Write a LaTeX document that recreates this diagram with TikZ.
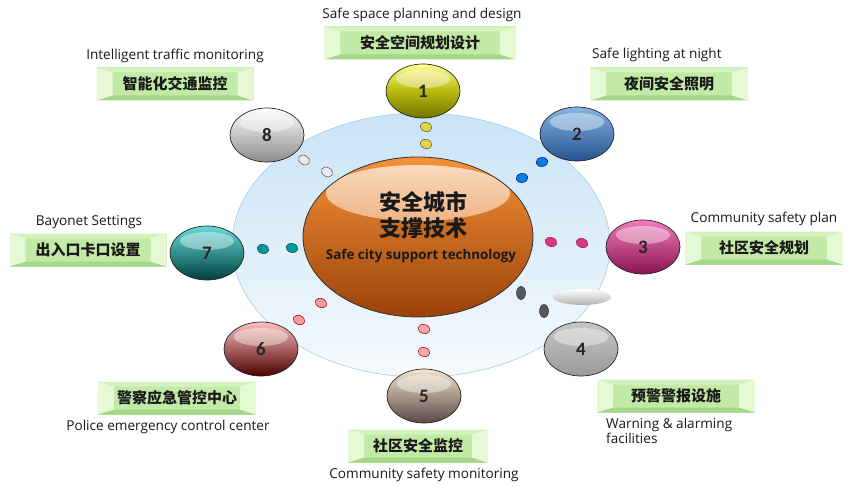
\documentclass[tikz,border=0pt]{standalone}
\usepackage{fontspec}
\setmainfont{Open Sans}
\newfontfamily\numfont{Carlito}
\newfontfamily\cjk{Noto Sans CJK SC}
\usetikzlibrary{shapes.geometric}
\definecolor{bgtop}{HTML}{C9E3F6}
\definecolor{bgbot}{HTML}{F6FAFD}
\definecolor{bgline}{HTML}{A9CDE9}
\definecolor{ortop}{HTML}{F4913A}
\definecolor{ormid}{HTML}{E66C0C}
\definecolor{orbot}{HTML}{9A4208}
\definecolor{gmid}{HTML}{C2E9A6}
\definecolor{glight}{HTML}{E4F9D4}
\definecolor{gdark}{HTML}{A6D68A}
\definecolor{gtop}{HTML}{D4F2BE}
\definecolor{b2t}{HTML}{86B4E4}
\definecolor{b2m}{HTML}{4A80C0}
\definecolor{b2b}{HTML}{24528E}
\definecolor{b3t}{HTML}{F07CB8}
\definecolor{b3m}{HTML}{D8388A}
\definecolor{b3b}{HTML}{8A1452}
\definecolor{b5t}{HTML}{F3E4CC}
\definecolor{b5m}{HTML}{D88484}
\definecolor{b5b}{HTML}{5A4848}
\definecolor{b6m}{HTML}{CC4444}
\begin{document}
\begin{tikzpicture}[x=1pt,y=-1pt,
  ball/.style={ellipse, draw=black!85, line width=0.7pt, minimum width=74pt, minimum height=54pt, inner sep=0pt,
    font=\numfont\bfseries\fontsize{19}{19}\selectfont, text=black!85,
    path picture={\fill[white,opacity=0.4] ([yshift=12pt]path picture bounding box.center) ellipse [x radius=27pt, y radius=9pt];}},
  dot/.style={ellipse, minimum width=12pt, minimum height=9pt, inner sep=0pt, line width=0.5pt},
  gbox/.style={minimum height=33pt, inner sep=0pt, fill=gmid, text=black!90,
    font=\cjk\bfseries\fontsize{15}{15}\selectfont,
    path picture={
      \fill[gtop] (path picture bounding box.north west) -- (path picture bounding box.north east)
        -- ([shift={(-16pt,-5pt)}]path picture bounding box.north east) -- ([shift={(16pt,-5pt)}]path picture bounding box.north west) -- cycle;
      \fill[gdark] (path picture bounding box.south west) -- (path picture bounding box.south east)
        -- ([shift={(-16pt,5pt)}]path picture bounding box.south east) -- ([shift={(16pt,5pt)}]path picture bounding box.south west) -- cycle;
      \fill[glight] (path picture bounding box.north west) -- ([shift={(16pt,-5pt)}]path picture bounding box.north west)
        -- ([shift={(16pt,5pt)}]path picture bounding box.south west) -- (path picture bounding box.south west) -- cycle;
      \fill[glight] (path picture bounding box.north east) -- ([shift={(-16pt,-5pt)}]path picture bounding box.north east)
        -- ([shift={(-16pt,5pt)}]path picture bounding box.south east) -- (path picture bounding box.south east) -- cycle;
    }},
  en/.style={font=\fontsize{13.6}{15.5}\selectfont, text=black!90, inner sep=0pt}
]
\useasboundingbox (0,0) rectangle (862,492);
\fill[white] (0,0) rectangle (862,492);

% background ellipse
\node[ellipse, minimum width=378pt, minimum height=264pt, draw=bgline, line width=0.6pt,
  top color=bgtop, bottom color=bgbot] (bg) at (421,245) {};

% central ellipse
\node[ellipse, minimum width=230pt, minimum height=160pt, draw=black!80, line width=0.8pt,
  top color=ortop, middle color=ormid, bottom color=orbot,
  path picture={\shade[top color=white, bottom color=ortop, opacity=0.7]
    ([yshift=44pt]path picture bounding box.center) ellipse [x radius=92pt, y radius=28pt];}] (core) at (418,237) {};
\node[inner sep=0pt, text=black!90, font=\cjk\bfseries\fontsize{22}{26}\selectfont] (ct1) at (423,202) {安全城市};
\node[inner sep=0pt, text=black!90, font=\cjk\bfseries\fontsize{22}{26}\selectfont] (ct2) at (423,228) {支撑技术};
\node[inner sep=0pt, text=black!90, font=\bfseries\fontsize{13.4}{15}\selectfont] (ct3) at (421,256) {Safe city support technology};

% shadow near 3
\shade[top color=white, bottom color=black!30] (582,297) ellipse [x radius=29pt, y radius=8pt];

% dots
\node[dot, fill=yellow!60!olive!70, draw=black!70, rotate=-15] (d1a) at (426,127) {};
\node[dot, fill=yellow!60!olive!70, draw=black!70, rotate=-15] (d1b) at (426,144) {};
\node[dot, fill=blue!40!cyan!85!black, draw=blue!60!black, rotate=10] (d2a) at (542,162) {};
\node[dot, fill=blue!40!cyan!85!black, draw=blue!60!black, rotate=10] (d2b) at (522,178) {};
\node[dot, fill=b3m, draw=b3b, rotate=-20] (d3a) at (551,242) {};
\node[dot, fill=b3m, draw=b3b, rotate=-20] (d3b) at (582,243) {};
\node[dot, fill=black!65, draw=black!80, minimum width=9pt, minimum height=13pt] (d4a) at (521,293) {};
\node[dot, fill=black!65, draw=black!80, minimum width=9pt, minimum height=13pt] (d4b) at (544,311) {};
\node[dot, fill=red!35!white, draw=red!50!black, rotate=-15] (d5a) at (424,329) {};
\node[dot, fill=red!35!white, draw=red!50!black, rotate=-15] (d5b) at (424,352) {};
\node[dot, fill=red!40!white, draw=red!50!black, rotate=-25] (d6a) at (321,303) {};
\node[dot, fill=red!40!white, draw=red!50!black, rotate=-25] (d6b) at (299,320) {};
\node[dot, fill=teal!80!cyan, draw=teal!60!black, rotate=-15] (d7a) at (263,249) {};
\node[dot, fill=teal!80!cyan, draw=teal!60!black, rotate=-15] (d7b) at (292,248) {};
\node[dot, fill=black!8, draw=black!70, rotate=-30] (d8a) at (304,160) {};
\node[dot, fill=black!8, draw=black!70, rotate=-30] (d8b) at (327,172) {};

% balls
\node[ball, top color=yellow!45!white, middle color=yellow!75!olive, bottom color=olive!90!black] (n1) at (423,91) {1};
\node[ball, top color=b2t, middle color=b2m, bottom color=b2b] (n2) at (577,134) {2};
\node[ball, top color=b3t, middle color=b3m, bottom color=b3b] (n3) at (643,247) {3};
\node[ball, top color=black!22, middle color=black!33, bottom color=black!40] (n4) at (581,349) {4};
\node[ball, top color=b5t, middle color=b5m, bottom color=b5b] (n5) at (424,396) {5};
\node[ball, top color=red!25!white, middle color=b6m, bottom color=red!30!black] (n6) at (261,349) {6};
\node[ball, top color=teal!50!cyan!60!white, middle color=teal!85!cyan, bottom color=teal!50!black] (n7) at (207,253) {7};
\node[ball, top color=white, middle color=black!12, bottom color=black!45] (n8) at (267,135) {8};

% green boxes and labels
\node[gbox, minimum width=192pt] (b1) at (420,43) {安全空间规划设计};
\node[en] (l1) at (422,15) {Safe space planning and design};
\node[gbox, minimum width=158pt] (b2) at (669,84) {夜间安全照明};
\node[en, anchor=west] (l2) at (592,55) {Safe lighting at night};
\node[gbox, minimum width=158pt] (b3) at (764,248) {社区安全规划};
\node[en] (l3) at (764,219) {Community safety plan};
\node[gbox, minimum width=158pt] (b4) at (676,396) {预警警报设施};
\node[en, anchor=north west, align=left, font=\fontsize{13.6}{15}\selectfont] (l4) at (606,418) {Warning \& alarming\\facilities};
\node[gbox, minimum width=140pt] (b5) at (418,446) {社区安全监控};
\node[en] (l5) at (424,475) {Community safety monitoring};
\node[gbox, minimum width=158pt] (b6) at (177,398) {警察应急管控中心};
\node[en] (l6) at (168,427) {Police emergency control center};
\node[gbox, minimum width=157pt] (b7) at (88,250) {出入口卡口设置};
\node[en] (l7) at (89,222) {Bayonet Settings};
\node[gbox, minimum width=157pt] (b8) at (175,84) {智能化交通监控};
\node[en] (l8) at (175,56) {Intelligent traffic monitoring};
\end{tikzpicture}
\end{document}
